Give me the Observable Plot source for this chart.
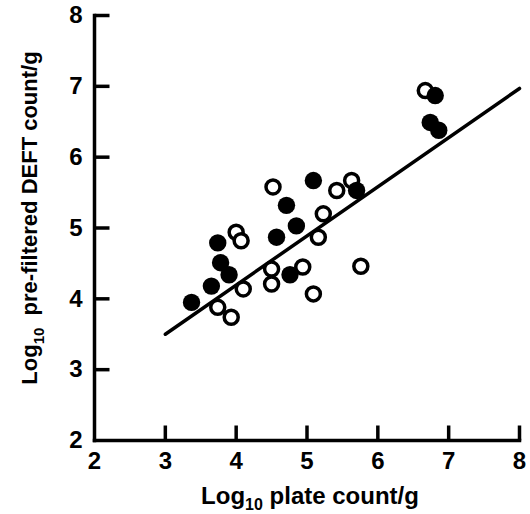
<!DOCTYPE html>
<html><head><meta charset="utf-8">
<script src="https://cdn.jsdelivr.net/npm/d3@7"></script>
<script src="https://cdn.jsdelivr.net/npm/@observablehq/plot@0.6"></script>
<style>body{margin:0;background:#fff}</style>
</head><body><div id="chart"></div>
<script>
// Filled circles
const filledX = [3.37, 3.65, 3.78, 3.90, 3.74, 4.57, 4.71, 4.85, 4.76, 5.09, 5.70, 6.74, 6.86, 6.81];
const filledY = [3.95, 4.18, 4.51, 4.34, 4.79, 4.87, 5.32, 5.03, 4.34, 5.67, 5.53, 6.49, 6.38, 6.87];
// Open circles
const openX = [3.74, 3.93, 4.00, 4.07, 4.10, 4.50, 4.50, 4.52, 4.94, 5.09, 5.16, 5.23, 5.42, 5.63, 5.76, 6.67];
const openY = [3.88, 3.74, 4.94, 4.82, 4.14, 4.42, 4.21, 5.58, 4.45, 4.07, 4.87, 5.20, 5.53, 5.67, 4.46, 6.94];
// Regression line
const lineX = [3, 8];
const lineY = [3.5, 6.97];
// Ticks
const xTicks = [2, 3, 4, 5, 6, 7, 8];
const yTicks = [2, 3, 4, 5, 6, 7, 8];
const xTitle = ["Log", "10", " plate count/g"];
const yTitle = ["Log", "10", "  pre-filtered DEFT count/g"];

const W = 530, H = 514, mL = 94, mR = 11, mT = 15, mB = 74;
const xDom = [2, 8], yDom = [2, 8];
const tickLenX = 15 * (yDom[1] - yDom[0]) / (H - mT - mB);
const tickLenY = 15 * (xDom[1] - xDom[0]) / (W - mL - mR);

const filled = filledX.map((x, i) => ({x, y: filledY[i]}));
const open = openX.map((x, i) => ({x, y: openY[i]}));
const line = lineX.map((x, i) => ({x, y: lineY[i]}));
const xTickMarks = xTicks.slice(1).map(v => ({x1: v, x2: v, y1: yDom[0], y2: yDom[0] + tickLenX}));
const yTickMarks = yTicks.slice(1).map(v => ({y1: v, y2: v, x1: xDom[0], x2: xDom[0] + tickLenY}));
const axisLines = [
  {x1: xDom[0], x2: xDom[1], y1: yDom[0], y2: yDom[0]},
  {x1: xDom[0], x2: xDom[0], y1: yDom[0], y2: yDom[1]}
];

const plot = Plot.plot({
  width: W, height: H,
  marginLeft: mL, marginRight: mR, marginTop: mT, marginBottom: mB,
  x: {domain: xDom},
  y: {domain: yDom},
  style: {fontFamily: "'Liberation Sans', Arial, sans-serif", fontWeight: "bold", color: "#000", background: "#fff"},
  marks: [
    Plot.link(axisLines, {x1: "x1", x2: "x2", y1: "y1", y2: "y2", stroke: "#000", strokeWidth: 3.5, strokeLinecap: "square"}),
    Plot.link(xTickMarks, {x1: "x1", x2: "x2", y1: "y1", y2: "y2", stroke: "#000", strokeWidth: 3.5}),
    Plot.link(yTickMarks, {x1: "x1", x2: "x2", y1: "y1", y2: "y2", stroke: "#000", strokeWidth: 3.5}),
    Plot.axisX(xTicks, {tickSize: 0, tickPadding: 11, fontSize: 24, tickFormat: d => String(d), label: null}),
    Plot.axisY(yTicks, {tickSize: 0, tickPadding: 12, fontSize: 24, tickFormat: d => String(d), label: null}),
    Plot.line(line, {x: "x", y: "y", stroke: "#000", strokeWidth: 3.5}),
    Plot.dot(open, {x: "x", y: "y", r: 7, fill: "#fff", stroke: "#000", strokeWidth: 3.5}),
    Plot.dot(filled, {x: "x", y: "y", r: 8.7, fill: "#000", stroke: "none"})
  ]
});

const svg = d3.select(plot);
// x title
const tx = svg.append("text")
  .attr("x", 310).attr("y", 504)
  .attr("text-anchor", "middle")
  .attr("font-size", 24).attr("font-weight", "bold").attr("fill", "#000");
tx.append("tspan").text(xTitle[0]);
tx.append("tspan").attr("font-size", 16).attr("dy", 6).text(xTitle[1]);
tx.append("tspan").attr("dy", -6).text(xTitle[2]);
// y title
const ty = svg.append("text")
  .attr("transform", "translate(37,218) rotate(-90)")
  .attr("text-anchor", "middle")
  .attr("font-size", 22).attr("font-weight", "bold").attr("fill", "#000")
  .attr("xml:space", "preserve").style("white-space", "pre");
ty.append("tspan").text(yTitle[0]);
ty.append("tspan").attr("font-size", 15).attr("dy", 7).text(yTitle[1]);
ty.append("tspan").attr("dy", -7).text(yTitle[2]);

document.getElementById("chart").appendChild(plot);
</script>
</body></html>
